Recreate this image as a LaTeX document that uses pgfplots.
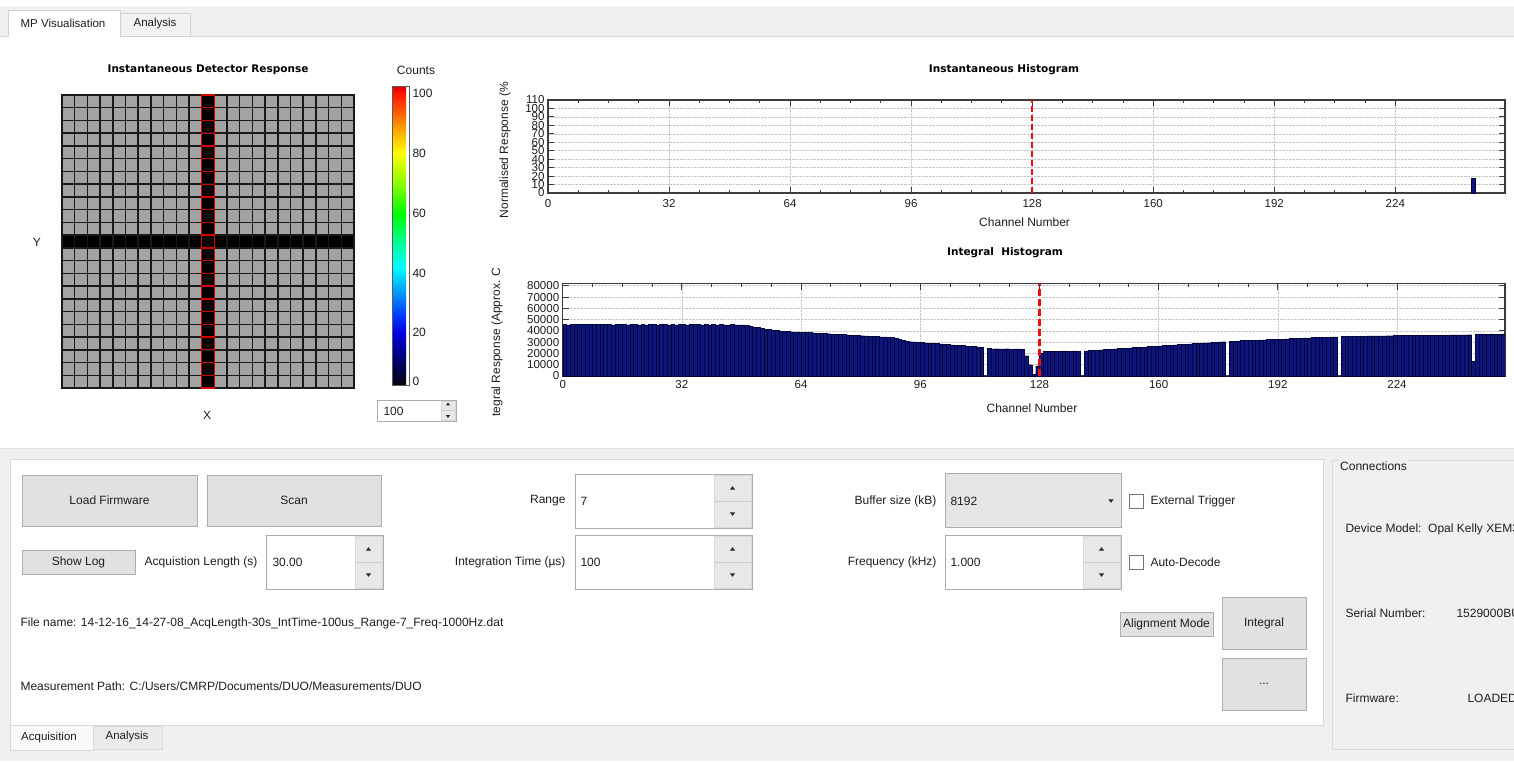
\documentclass[border=0pt]{standalone}
\usepackage{pgfplots}
\pgfplotsset{compat=1.18}
\usepackage{fontspec}
\setmainfont{Liberation Sans}
\newfontfamily\tfont{DejaVu Sans}
\definecolor{guibg}{RGB}{240,240,240}
\definecolor{btnfill}{RGB}{225,225,225}
\definecolor{btnedge}{RGB}{173,173,173}
\definecolor{boxedge}{RGB}{171,173,179}
\definecolor{spinbtn}{RGB}{232,232,232}
\definecolor{navy}{RGB}{14,20,125}
\definecolor{navyedge}{RGB}{4,6,55}
\definecolor{dashred}{RGB}{235,15,15}
\definecolor{txt}{RGB}{30,30,30}
\definecolor{axline}{RGB}{60,60,60}
\newcommand\guifont{\fontsize{12}{14}\selectfont}
\newcommand\ticksz{\fontsize{11.5}{13}\selectfont}
\newcommand\titlesz{\tfont\bfseries\fontsize{10.5}{12}\selectfont}
\newcommand\uarr[2]{\fill[black!85] (#1,#2) ++(-2.6,1.6) -- ++(5.2,0) -- ++(-2.6,-3.4) -- cycle;}
\newcommand\darr[2]{\fill[black!85] (#1,#2) ++(-2.6,-1.6) -- ++(5.2,0) -- ++(-2.6,3.4) -- cycle;}
\newcommand\btn[5]{\filldraw[fill=btnfill, draw=btnedge, line width=0.8pt] (#1,#2) rectangle (#3,#4);
  \node[font=\guifont, text=txt] at ({(#1+#3)/2},{(#2+#4)/2}) {#5};}
\pgfplotstableread{
x y
0 45600
1 45400
2 45700
3 45500
4 45800
5 45600
6 45900
7 45700
8 45500
9 45800
10 45600
11 45700
12 45500
13 45400
14 45700
15 45500
16 45600
17 45400
18 45700
19 45500
20 45300
21 45600
22 45400
23 45500
24 45700
25 45400
26 45600
27 45500
28 45300
29 45600
30 45400
31 45500
32 45700
33 45400
34 45600
35 45800
36 45500
37 45300
38 45600
39 45400
40 45500
41 45300
42 45600
43 45400
44 45200
45 45500
46 45300
47 45400
48 45300
49 45000
50 44300
51 43600
52 42900
53 42200
54 41600
55 41100
56 40700
57 40300
58 40000
59 39700
60 39400
61 39200
62 39000
63 38900
64 38800
65 38600
66 38400
67 38200
68 38000
69 37800
70 37600
71 37500
72 37200
73 37000
74 36800
75 36700
76 36500
77 36200
78 36100
79 35900
80 35700
81 35500
82 35300
83 35100
84 34900
85 34800
86 34600
87 34400
88 34200
89 33300
90 32300
91 31400
92 30800
93 30400
94 30200
95 29900
96 29700
97 29400
98 29200
99 28900
100 28700
101 28400
102 28100
103 27900
104 27600
105 27400
106 27100
107 26900
108 26600
109 26300
110 26100
111 25800
112 25600
113 0
114 24300
115 24100
116 24200
117 24000
118 24100
119 24200
120 23900
121 24000
122 24100
123 23800
124 18000
125 10000
126 1500
127 9000
128 20500
129 22000
130 22100
131 21900
132 22100
133 22000
134 22200
135 22000
136 22100
137 22200
138 22100
139 0
140 22300
141 22500
142 22700
143 22900
144 23200
145 23400
146 23600
147 23800
148 24000
149 24300
150 24500
151 24700
152 24900
153 25100
154 25400
155 25600
156 25800
157 26000
158 26200
159 26500
160 26700
161 26900
162 27100
163 27300
164 27500
165 27800
166 28000
167 28200
168 28400
169 28700
170 28900
171 29100
172 29300
173 29500
174 29800
175 30000
176 30200
177 30400
178 0
179 30900
180 31000
181 31200
182 31300
183 31400
184 31600
185 31700
186 31900
187 32000
188 32100
189 32300
190 32400
191 32600
192 32700
193 32800
194 33000
195 33100
196 33300
197 33400
198 33500
199 33700
200 33800
201 34000
202 34100
203 34200
204 34400
205 34500
206 34700
207 34800
208 0
209 35200
210 35300
211 35300
212 35300
213 35400
214 35400
215 35400
216 35500
217 35500
218 35600
219 35600
220 35600
221 35700
222 35700
223 35800
224 35800
225 35800
226 35900
227 35900
228 36000
229 36000
230 36000
231 36100
232 36100
233 36200
234 36200
235 36200
236 36300
237 36300
238 36400
239 36400
240 36400
241 36500
242 36500
243 36600
244 13300
245 37200
246 37300
247 37100
248 37200
249 37300
250 37200
251 37100
252 37300
253 37300
}\integraldata
\pgfplotstableread{
x y
128 0
128 82000
}\integralmarker
\pgfplotsset{
  /pgf/number format/assume math mode=true,
  histo/.style={
    scale only axis, xmin=0, xmax=253,
    xtick={0,32,...,224}, minor x tick num=3,
    tick align=inside, major tick length=6pt, minor tick length=3pt,
    axis line style={axline, line width=1.4pt},
    tick style={axline, line width=0.9pt},
    grid=major, major grid style={densely dotted, black!22, line width=0.6pt},
    tick label style={font=\ticksz, text=txt},
  },
}
\begin{document}
\begin{tikzpicture}
\useasboundingbox (0pt,0pt) rectangle (1514pt,-761pt);
\clip (0pt,0pt) rectangle (1514pt,-761pt);
% ---------------- background ----------------
\begin{scope}[x=1pt,y=-1pt]
\fill[white] (0,0) rectangle (1514,761);
\fill[guibg] (0,6) rectangle (1514,36);
\draw[black!15] (0,36) -- (1514,36);
\filldraw[fill=white, draw=black!18] (8,36) -- (8,10) -- (120,10) -- (120,36);
\fill[white] (8.5,35) rectangle (119.5,37);
\filldraw[fill=black!5, draw=black!18] (120,36) rectangle (190,13);
\fill[guibg] (0,448) rectangle (1514,761);
\draw[black!12] (0,448) -- (1514,448);
\filldraw[fill=white, draw=black!15] (10,459) rectangle (1323,725);
\filldraw[fill=guibg, draw=black!15] (1332,460) rectangle (1530,749);
\filldraw[fill=white!60!guibg, draw=black!15] (10,725) rectangle (93,750);
\filldraw[fill=black!8, draw=black!15] (93,726) rectangle (162,749);
\end{scope}
% ---------------- detector response heatmap ----------------
\begin{axis}[at={(62pt,-388pt)}, anchor=south west, scale only axis, width=292pt, height=293pt,
  xmin=-0.5, xmax=22.5, ymin=-0.5, ymax=22.5, hide axis, clip=false,
  colormap={cellmap}{rgb255(0pt)=(0,0,0) rgb255(100pt)=(0,0,0) rgb255(101pt)=(163,163,163) rgb255(120pt)=(163,163,163)},
  point meta min=0, point meta max=120]
\addplot[scatter, only marks, mark=square*, mark size=6.348pt, point meta=explicit,
  scatter/use mapped color={draw=black!90, fill=mapped color}, mark options={line width=1.45pt}] coordinates {
(0,0)[115] (1,0)[115] (2,0)[115] (3,0)[115] (4,0)[115] (5,0)[115] (6,0)[115] (7,0)[115] (8,0)[115] (9,0)[115] (10,0)[115] (11,0)[0] (12,0)[115] (13,0)[115] (14,0)[115] (15,0)[115] (16,0)[115] (17,0)[115] (18,0)[115] (19,0)[115] (20,0)[115] (21,0)[115] (22,0)[115]
(0,1)[115] (1,1)[115] (2,1)[115] (3,1)[115] (4,1)[115] (5,1)[115] (6,1)[115] (7,1)[115] (8,1)[115] (9,1)[115] (10,1)[115] (11,1)[0] (12,1)[115] (13,1)[115] (14,1)[115] (15,1)[115] (16,1)[115] (17,1)[115] (18,1)[115] (19,1)[115] (20,1)[115] (21,1)[115] (22,1)[115]
(0,2)[115] (1,2)[115] (2,2)[115] (3,2)[115] (4,2)[115] (5,2)[115] (6,2)[115] (7,2)[115] (8,2)[115] (9,2)[115] (10,2)[115] (11,2)[0] (12,2)[115] (13,2)[115] (14,2)[115] (15,2)[115] (16,2)[115] (17,2)[115] (18,2)[115] (19,2)[115] (20,2)[115] (21,2)[115] (22,2)[115]
(0,3)[115] (1,3)[115] (2,3)[115] (3,3)[115] (4,3)[115] (5,3)[115] (6,3)[115] (7,3)[115] (8,3)[115] (9,3)[115] (10,3)[115] (11,3)[0] (12,3)[115] (13,3)[115] (14,3)[115] (15,3)[115] (16,3)[115] (17,3)[115] (18,3)[115] (19,3)[115] (20,3)[115] (21,3)[115] (22,3)[115]
(0,4)[115] (1,4)[115] (2,4)[115] (3,4)[115] (4,4)[115] (5,4)[115] (6,4)[115] (7,4)[115] (8,4)[115] (9,4)[115] (10,4)[115] (11,4)[0] (12,4)[115] (13,4)[115] (14,4)[115] (15,4)[115] (16,4)[115] (17,4)[115] (18,4)[115] (19,4)[115] (20,4)[115] (21,4)[115] (22,4)[115]
(0,5)[115] (1,5)[115] (2,5)[115] (3,5)[115] (4,5)[115] (5,5)[115] (6,5)[115] (7,5)[115] (8,5)[115] (9,5)[115] (10,5)[115] (11,5)[0] (12,5)[115] (13,5)[115] (14,5)[115] (15,5)[115] (16,5)[115] (17,5)[115] (18,5)[115] (19,5)[115] (20,5)[115] (21,5)[115] (22,5)[115]
(0,6)[115] (1,6)[115] (2,6)[115] (3,6)[115] (4,6)[115] (5,6)[115] (6,6)[115] (7,6)[115] (8,6)[115] (9,6)[115] (10,6)[115] (11,6)[0] (12,6)[115] (13,6)[115] (14,6)[115] (15,6)[115] (16,6)[115] (17,6)[115] (18,6)[115] (19,6)[115] (20,6)[115] (21,6)[115] (22,6)[115]
(0,7)[115] (1,7)[115] (2,7)[115] (3,7)[115] (4,7)[115] (5,7)[115] (6,7)[115] (7,7)[115] (8,7)[115] (9,7)[115] (10,7)[115] (11,7)[0] (12,7)[115] (13,7)[115] (14,7)[115] (15,7)[115] (16,7)[115] (17,7)[115] (18,7)[115] (19,7)[115] (20,7)[115] (21,7)[115] (22,7)[115]
(0,8)[115] (1,8)[115] (2,8)[115] (3,8)[115] (4,8)[115] (5,8)[115] (6,8)[115] (7,8)[115] (8,8)[115] (9,8)[115] (10,8)[115] (11,8)[0] (12,8)[115] (13,8)[115] (14,8)[115] (15,8)[115] (16,8)[115] (17,8)[115] (18,8)[115] (19,8)[115] (20,8)[115] (21,8)[115] (22,8)[115]
(0,9)[115] (1,9)[115] (2,9)[115] (3,9)[115] (4,9)[115] (5,9)[115] (6,9)[115] (7,9)[115] (8,9)[115] (9,9)[115] (10,9)[115] (11,9)[0] (12,9)[115] (13,9)[115] (14,9)[115] (15,9)[115] (16,9)[115] (17,9)[115] (18,9)[115] (19,9)[115] (20,9)[115] (21,9)[115] (22,9)[115]
(0,10)[115] (1,10)[115] (2,10)[115] (3,10)[115] (4,10)[115] (5,10)[115] (6,10)[115] (7,10)[115] (8,10)[115] (9,10)[115] (10,10)[115] (11,10)[0] (12,10)[115] (13,10)[115] (14,10)[115] (15,10)[115] (16,10)[115] (17,10)[115] (18,10)[115] (19,10)[115] (20,10)[115] (21,10)[115] (22,10)[115]
(0,11)[0] (1,11)[0] (2,11)[0] (3,11)[0] (4,11)[0] (5,11)[0] (6,11)[0] (7,11)[0] (8,11)[0] (9,11)[0] (10,11)[0] (11,11)[0] (12,11)[0] (13,11)[0] (14,11)[0] (15,11)[0] (16,11)[0] (17,11)[0] (18,11)[0] (19,11)[0] (20,11)[0] (21,11)[0] (22,11)[0]
(0,12)[115] (1,12)[115] (2,12)[115] (3,12)[115] (4,12)[115] (5,12)[115] (6,12)[115] (7,12)[115] (8,12)[115] (9,12)[115] (10,12)[115] (11,12)[0] (12,12)[115] (13,12)[115] (14,12)[115] (15,12)[115] (16,12)[115] (17,12)[115] (18,12)[115] (19,12)[115] (20,12)[115] (21,12)[115] (22,12)[115]
(0,13)[115] (1,13)[115] (2,13)[115] (3,13)[115] (4,13)[115] (5,13)[115] (6,13)[115] (7,13)[115] (8,13)[115] (9,13)[115] (10,13)[115] (11,13)[0] (12,13)[115] (13,13)[115] (14,13)[115] (15,13)[115] (16,13)[115] (17,13)[115] (18,13)[115] (19,13)[115] (20,13)[115] (21,13)[115] (22,13)[115]
(0,14)[115] (1,14)[115] (2,14)[115] (3,14)[115] (4,14)[115] (5,14)[115] (6,14)[115] (7,14)[115] (8,14)[115] (9,14)[115] (10,14)[115] (11,14)[0] (12,14)[115] (13,14)[115] (14,14)[115] (15,14)[115] (16,14)[115] (17,14)[115] (18,14)[115] (19,14)[115] (20,14)[115] (21,14)[115] (22,14)[115]
(0,15)[115] (1,15)[115] (2,15)[115] (3,15)[115] (4,15)[115] (5,15)[115] (6,15)[115] (7,15)[115] (8,15)[115] (9,15)[115] (10,15)[115] (11,15)[0] (12,15)[115] (13,15)[115] (14,15)[115] (15,15)[115] (16,15)[115] (17,15)[115] (18,15)[115] (19,15)[115] (20,15)[115] (21,15)[115] (22,15)[115]
(0,16)[115] (1,16)[115] (2,16)[115] (3,16)[115] (4,16)[115] (5,16)[115] (6,16)[115] (7,16)[115] (8,16)[115] (9,16)[115] (10,16)[115] (11,16)[0] (12,16)[115] (13,16)[115] (14,16)[115] (15,16)[115] (16,16)[115] (17,16)[115] (18,16)[115] (19,16)[115] (20,16)[115] (21,16)[115] (22,16)[115]
(0,17)[115] (1,17)[115] (2,17)[115] (3,17)[115] (4,17)[115] (5,17)[115] (6,17)[115] (7,17)[115] (8,17)[115] (9,17)[115] (10,17)[115] (11,17)[0] (12,17)[115] (13,17)[115] (14,17)[115] (15,17)[115] (16,17)[115] (17,17)[115] (18,17)[115] (19,17)[115] (20,17)[115] (21,17)[115] (22,17)[115]
(0,18)[115] (1,18)[115] (2,18)[115] (3,18)[115] (4,18)[115] (5,18)[115] (6,18)[115] (7,18)[115] (8,18)[115] (9,18)[115] (10,18)[115] (11,18)[0] (12,18)[115] (13,18)[115] (14,18)[115] (15,18)[115] (16,18)[115] (17,18)[115] (18,18)[115] (19,18)[115] (20,18)[115] (21,18)[115] (22,18)[115]
(0,19)[115] (1,19)[115] (2,19)[115] (3,19)[115] (4,19)[115] (5,19)[115] (6,19)[115] (7,19)[115] (8,19)[115] (9,19)[115] (10,19)[115] (11,19)[0] (12,19)[115] (13,19)[115] (14,19)[115] (15,19)[115] (16,19)[115] (17,19)[115] (18,19)[115] (19,19)[115] (20,19)[115] (21,19)[115] (22,19)[115]
(0,20)[115] (1,20)[115] (2,20)[115] (3,20)[115] (4,20)[115] (5,20)[115] (6,20)[115] (7,20)[115] (8,20)[115] (9,20)[115] (10,20)[115] (11,20)[0] (12,20)[115] (13,20)[115] (14,20)[115] (15,20)[115] (16,20)[115] (17,20)[115] (18,20)[115] (19,20)[115] (20,20)[115] (21,20)[115] (22,20)[115]
(0,21)[115] (1,21)[115] (2,21)[115] (3,21)[115] (4,21)[115] (5,21)[115] (6,21)[115] (7,21)[115] (8,21)[115] (9,21)[115] (10,21)[115] (11,21)[0] (12,21)[115] (13,21)[115] (14,21)[115] (15,21)[115] (16,21)[115] (17,21)[115] (18,21)[115] (19,21)[115] (20,21)[115] (21,21)[115] (22,21)[115]
(0,22)[115] (1,22)[115] (2,22)[115] (3,22)[115] (4,22)[115] (5,22)[115] (6,22)[115] (7,22)[115] (8,22)[115] (9,22)[115] (10,22)[115] (11,22)[0] (12,22)[115] (13,22)[115] (14,22)[115] (15,22)[115] (16,22)[115] (17,22)[115] (18,22)[115] (19,22)[115] (20,22)[115] (21,22)[115] (22,22)[115]
};
\addplot[only marks, mark=square, mark size=6.348pt, mark options={draw=red!85!black, line width=1.3pt}] coordinates {
(11,0) (11,1) (11,2) (11,3) (11,4) (11,5) (11,6) (11,7) (11,8) (11,9) (11,10) (11,11) (11,12) (11,13) (11,14) (11,15) (11,16) (11,17) (11,18) (11,19) (11,20) (11,21) (11,22)};
\end{axis}
% ---------------- colour bar ----------------
\begin{axis}[at={(392pt,-86pt)}, anchor=north west, scale only axis, width=17pt, height=299pt, hide axis,
  xmin=0, xmax=1, ymin=0, ymax=1,
  colormap={jetq}{rgb255(0pt)=(5,5,15) rgb255(95pt)=(0,0,125) rgb255(175pt)=(0,0,225) rgb255(235pt)=(0,60,255) rgb255(315pt)=(0,160,255) rgb255(395pt)=(0,255,255) rgb255(475pt)=(0,255,150) rgb255(575pt)=(0,255,0) rgb255(675pt)=(140,255,0) rgb255(775pt)=(255,255,0) rgb255(875pt)=(255,140,0) rgb255(975pt)=(255,20,0) rgb255(1000pt)=(215,0,0)},
  point meta min=2.5, point meta max=102.5,
  colorbar, colorbar shift/.style={xshift=0pt},
  colorbar style={at={(parent axis.north west)}, anchor=north west, scale only axis, width=17pt, height=299pt,
    ytick={20,40,60,80,100}, extra y ticks={3.6}, extra y tick labels={0},
    extra y tick style={grid=none, major tick length=0pt},
    major tick length=0pt, yticklabel pos=right,
    tick label style={font=\guifont, text=txt},
    axis line style={black!65, line width=0.6pt}},
]
\addplot[draw=none] coordinates {(0,0)};
\end{axis}
% ---------------- instantaneous histogram ----------------
\begin{axis}[histo,
  at={(548pt,-193pt)}, anchor=south west, width=957pt, height=93pt,
  ymin=0, ymax=110, ytick={0,10,...,110},
  xticklabel style={yshift=-3pt},
  title={Instantaneous Histogram},
  every axis title/.style={at={(axis description cs:0.4765,1.3226)}, anchor=center, font=\titlesz},
  xlabel={Channel Number},
  every axis x label/.style={at={(axis description cs:0.498,-0.312)}, anchor=center, font=\guifont, text=txt},
  ylabel={Normalised Response (\%},
  every axis y label/.style={at={(axis description cs:-0.045,0.462)}, anchor=center, rotate=90, font=\guifont, text=txt},
]
\addplot[draw=dashred, dash pattern=on 6pt off 3pt, line width=2pt] coordinates {(128,0) (128,110)};
\addplot[ybar interval, fill=navy, draw=navyedge, line width=0.4pt] coordinates {(244,18) (245,0)};
\end{axis}
% ---------------- integral histogram ----------------
\begin{axis}[histo,
  at={(562.7pt,-376pt)}, anchor=south west, width=942.3pt, height=92.5pt,
  ymin=0, ymax=82000, ytick={0,10000,...,80000}, scaled y ticks=false,
  yticklabel style={/pgf/number format/1000 sep={}},
  xticklabel style={yshift=-1pt},
  title={Integral\ \ Histogram},
  every axis title/.style={at={(axis description cs:0.4694,1.33)}, anchor=center, font=\titlesz},
  xlabel={Channel Number},
  every axis x label/.style={at={(axis description cs:0.498,-0.346)}, anchor=center, font=\guifont, text=txt},
  ylabel={tegral Response (Approx. C},
  every axis y label/.style={at={(axis description cs:-0.0697,0.3676)}, anchor=center, rotate=90, font=\guifont, text=txt},
]
\addplot[ybar interval, fill=navy, draw=navyedge, line width=0.4pt] table[x=x, y=y] {\integraldata};
\addplot[color=dashred, solid, dash pattern=on 7pt off 3pt, line width=2.4pt, mark=none] table[x=x, y=y] {\integralmarker};
\end{axis}
% ---------------- foreground GUI ----------------
\begin{scope}[x=1pt,y=-1pt]
\node[font=\fontsize{11.5}{13}\selectfont, text=txt] at (63,23) {MP Visualisation};
\node[font=\fontsize{11.5}{13}\selectfont, text=txt] at (155,24) {Analysis};
\node[font=\titlesz] at (208,70) {Instantaneous Detector Response};
\node[font=\guifont, text=txt] at (37,242) {Y};
\node[font=\guifont, text=txt] at (207,415) {X};
\node[font=\guifont, text=txt] at (416,70) {Counts};
% small spin box
\filldraw[fill=white, draw=boxedge] (377,400) rectangle (456,421);
\filldraw[fill=spinbtn, draw=black!15] (441,401) rectangle (455,420);
\draw[black!20] (441,410.5) -- (455,410.5);
\node[font=\guifont, text=txt, anchor=west] at (380,411) {100};
\fill[black!85] (448,404) ++(-2,1.3) -- ++(4,0) -- ++(-2,-2.8) -- cycle;
\fill[black!85] (448,416.5) ++(-2,-1.3) -- ++(4,0) -- ++(-2,2.8) -- cycle;
% buttons
\btn{22}{475}{197}{526}{Load Firmware}
\btn{207}{475}{381}{526}{Scan}
\btn{22}{550}{135}{574}{Show Log}
\btn{1120}{612}{1213}{636}{Alignment Mode}
\btn{1222}{597}{1306}{649}{Integral}
\btn{1222}{658}{1306}{710}{...}
% labels
\node[font=\guifont, text=txt, anchor=east] at (261,562) {Acquistion Length (s)};
\node[font=\guifont, text=txt, anchor=east] at (569,501) {Range};
\node[font=\guifont, text=txt, anchor=east] at (569,562) {Integration Time (µs)};
\node[font=\guifont, text=txt, anchor=east] at (940,501) {Buffer size (kB)};
\node[font=\guifont, text=txt, anchor=east] at (940,562) {Frequency (kHz)};
% spin boxes
\filldraw[fill=white, draw=boxedge] (266,535) rectangle (383,589);
\filldraw[fill=spinbtn, draw=black!15] (355,536) rectangle (382,588);
\draw[black!20] (355,562) -- (382,562);
\uarr{368.5}{549}\darr{368.5}{575}
\node[font=\guifont, text=txt, anchor=west] at (269,562) {30.00};
\filldraw[fill=white, draw=boxedge] (575,474) rectangle (752,528);
\filldraw[fill=spinbtn, draw=black!15] (714,475) rectangle (751,527);
\draw[black!20] (714,501) -- (751,501);
\uarr{732.5}{488}\darr{732.5}{514}
\node[font=\guifont, text=txt, anchor=west] at (577,501) {7};
\filldraw[fill=white, draw=boxedge] (575,535) rectangle (752,589);
\filldraw[fill=spinbtn, draw=black!15] (714,536) rectangle (751,588);
\draw[black!20] (714,562) -- (751,562);
\uarr{732.5}{549}\darr{732.5}{575}
\node[font=\guifont, text=txt, anchor=west] at (577,562) {100};
\filldraw[fill=black!10, draw=btnedge] (945,473) rectangle (1121,527);
\node[font=\guifont, text=txt, anchor=west] at (947,501) {8192};
\darr{1111}{501}
\filldraw[fill=white, draw=boxedge] (945,535) rectangle (1121,589);
\filldraw[fill=spinbtn, draw=black!15] (1083,536) rectangle (1120,588);
\draw[black!20] (1083,562) -- (1120,562);
\uarr{1101.5}{549}\darr{1101.5}{575}
\node[font=\guifont, text=txt, anchor=west] at (947,562) {1.000};
% check boxes
\filldraw[fill=white, draw=black!55, line width=0.8pt] (1129,494) rectangle (1143,508);
\node[font=\guifont, text=txt, anchor=west] at (1147,501) {External Trigger};
\filldraw[fill=white, draw=black!55, line width=0.8pt] (1129,555) rectangle (1143,569);
\node[font=\guifont, text=txt, anchor=west] at (1147,562) {Auto-Decode};
% file name / path
\node[font=\guifont, text=txt, anchor=west] at (17,623) {File name: 14-12-16\_14-27-08\_AcqLength-30s\_IntTime-100us\_Range-7\_Freq-1000Hz.dat};
\node[font=\guifont, text=txt, anchor=west] at (17,686) {Measurement Path: C:/Users/CMRP/Documents/DUO/Measurements/DUO};
% bottom tabs
\node[font=\fontsize{11.5}{13}\selectfont, text=txt] at (49,738) {Acquisition};
\node[font=\fontsize{11.5}{13}\selectfont, text=txt] at (127,737) {Analysis};
% connections
\node[font=\guifont, text=txt, fill=guibg, inner xsep=1pt, anchor=west] at (1339,466) {Connections};
\node[font=\guifont, text=txt, anchor=west] at (1342,529) {Device Model:\ \ Opal Kelly XEM3010};
\node[font=\guifont, text=txt, anchor=west] at (1342,613) {Serial Number:};
\node[font=\guifont, text=txt, anchor=west] at (1453,613) {1529000BU};
\node[font=\guifont, text=txt, anchor=west] at (1342,698) {Firmware:};
\node[font=\guifont, text=txt, anchor=west] at (1464,698) {LOADED};
\end{scope}
\end{tikzpicture}
\end{document}
